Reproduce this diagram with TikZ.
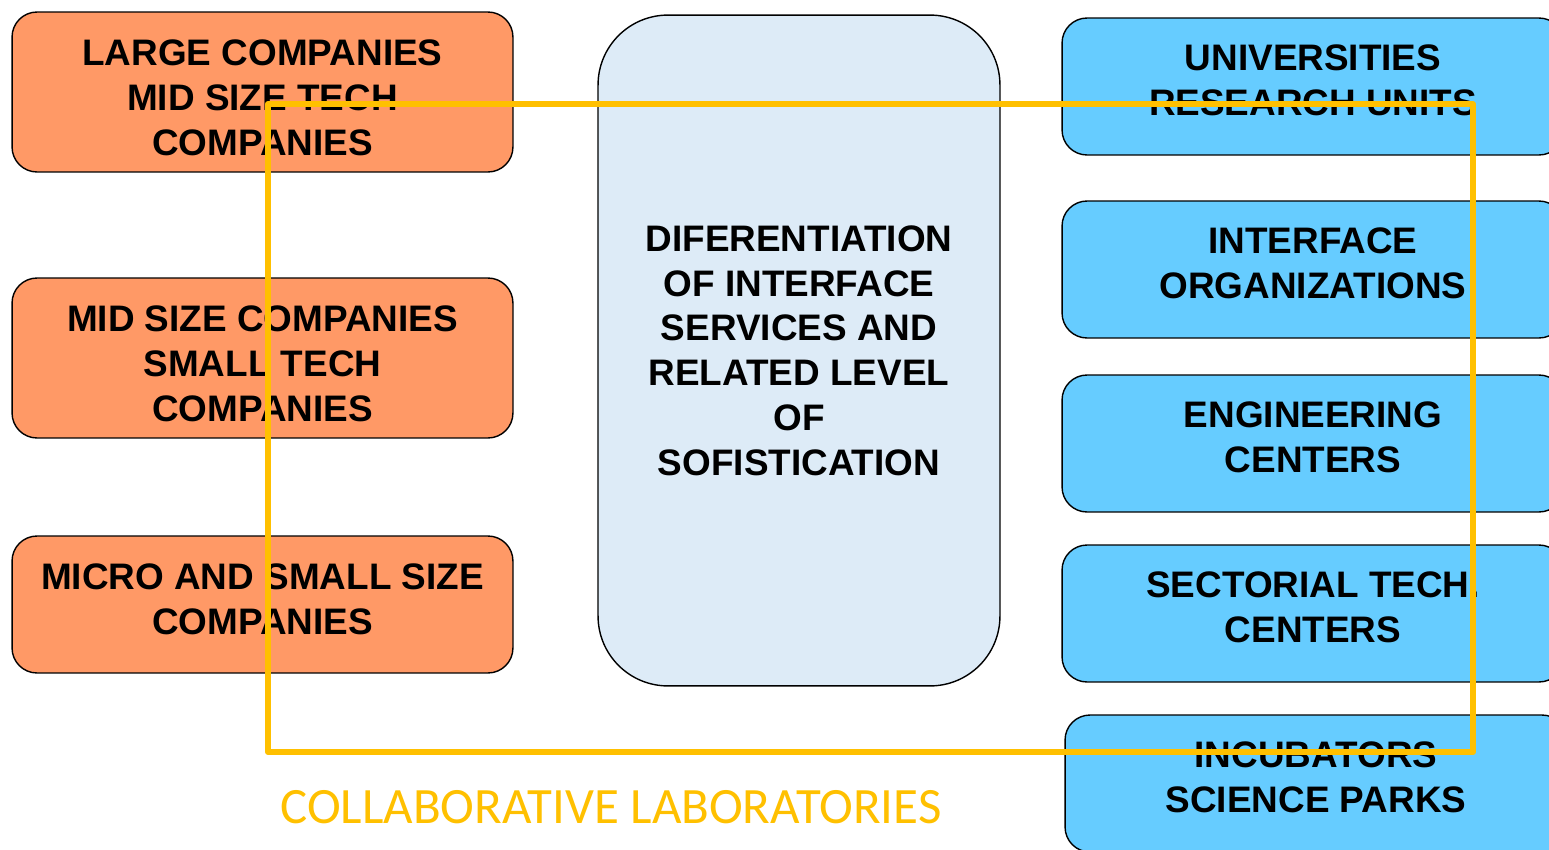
\documentclass[tikz,border=0pt]{standalone}
\usepackage{fontspec}
\setmainfont{Liberation Sans}
\newfontfamily\labfont{Carlito}
\usetikzlibrary{positioning}
\definecolor{firmorange}{HTML}{FF9966}
\definecolor{orgblue}{HTML}{66CCFF}
\definecolor{servblue}{HTML}{DDEBF7}
\definecolor{labyellow}{HTML}{FFC000}

\begin{document}
\begin{tikzpicture}[x=0.02cm, y=-0.02cm]
		\tikzstyle{firm_box} = [rectangle, rounded corners=0.5cm, draw, line width=0.8pt, fill=firmorange, minimum width=10.02cm, align=center, font=\bfseries\fontsize{21}{25.5}\selectfont]
		\tikzstyle{org_box} = [firm_box, fill=orgblue, minimum width=10.04cm, minimum height=2.74cm, text depth=7.4pt]
		\tikzstyle{serv_box} = [firm_box, fill=servblue, rounded corners=1.4cm, minimum width=8.04cm, minimum height=13.42cm]
		\tikzstyle{lab_frame} = [draw=labyellow, line width=3.4pt, line join=round]
		\tikzstyle{lab_caption} = [text=labyellow, font=\labfont\fontsize{29}{34}\selectfont]

		\useasboundingbox (0,0) rectangle (1549,849);
		\clip (0,0) rectangle (1549,849);

		% Companies
		\node (QL) [firm_box, minimum height=3.2cm, text height=72pt] at (262.5,92) {LARGE COMPANIES\\MID SIZE TECH\\COMPANIES};
		\node (QM) [firm_box, minimum height=3.2cm, text height=72pt] at (262.5,358) {MID SIZE COMPANIES\\SMALL TECH\\COMPANIES};
		\node (QS) [firm_box, minimum height=2.74cm, text depth=5.7pt] at (262.5,604.5) {MICRO AND SMALL SIZE\\COMPANIES};

		% Interface services
		\node (SV) [serv_box] at (799,350.5) {DIFERENTIATION\\OF INTERFACE\\SERVICES AND\\RELATED LEVEL\\OF\\SOFISTICATION};

		% Organizations
		\node (UN) [org_box] at (1313,86.5) {UNIVERSITIES\\RESEARCH UNITS};
		\node (IO) [org_box] at (1313,269.5) {INTERFACE\\ORGANIZATIONS};
		\node (EC) [org_box] at (1313,443.5) {ENGINEERING\\CENTERS};
		\node (TC) [org_box] at (1313,613.5) {SECTORIAL TECH.\\CENTERS};
		\node (IN) [org_box] at (1316,783.5) {INCUBATORS\\SCIENCE PARKS};

		% Collaborative laboratories
		\draw[lab_frame] (268,104) rectangle (1473,752);
		\node (CL) [lab_caption] at (611,807) {COLLABORATIVE LABORATORIES};
	\end{tikzpicture}
\end{document}
